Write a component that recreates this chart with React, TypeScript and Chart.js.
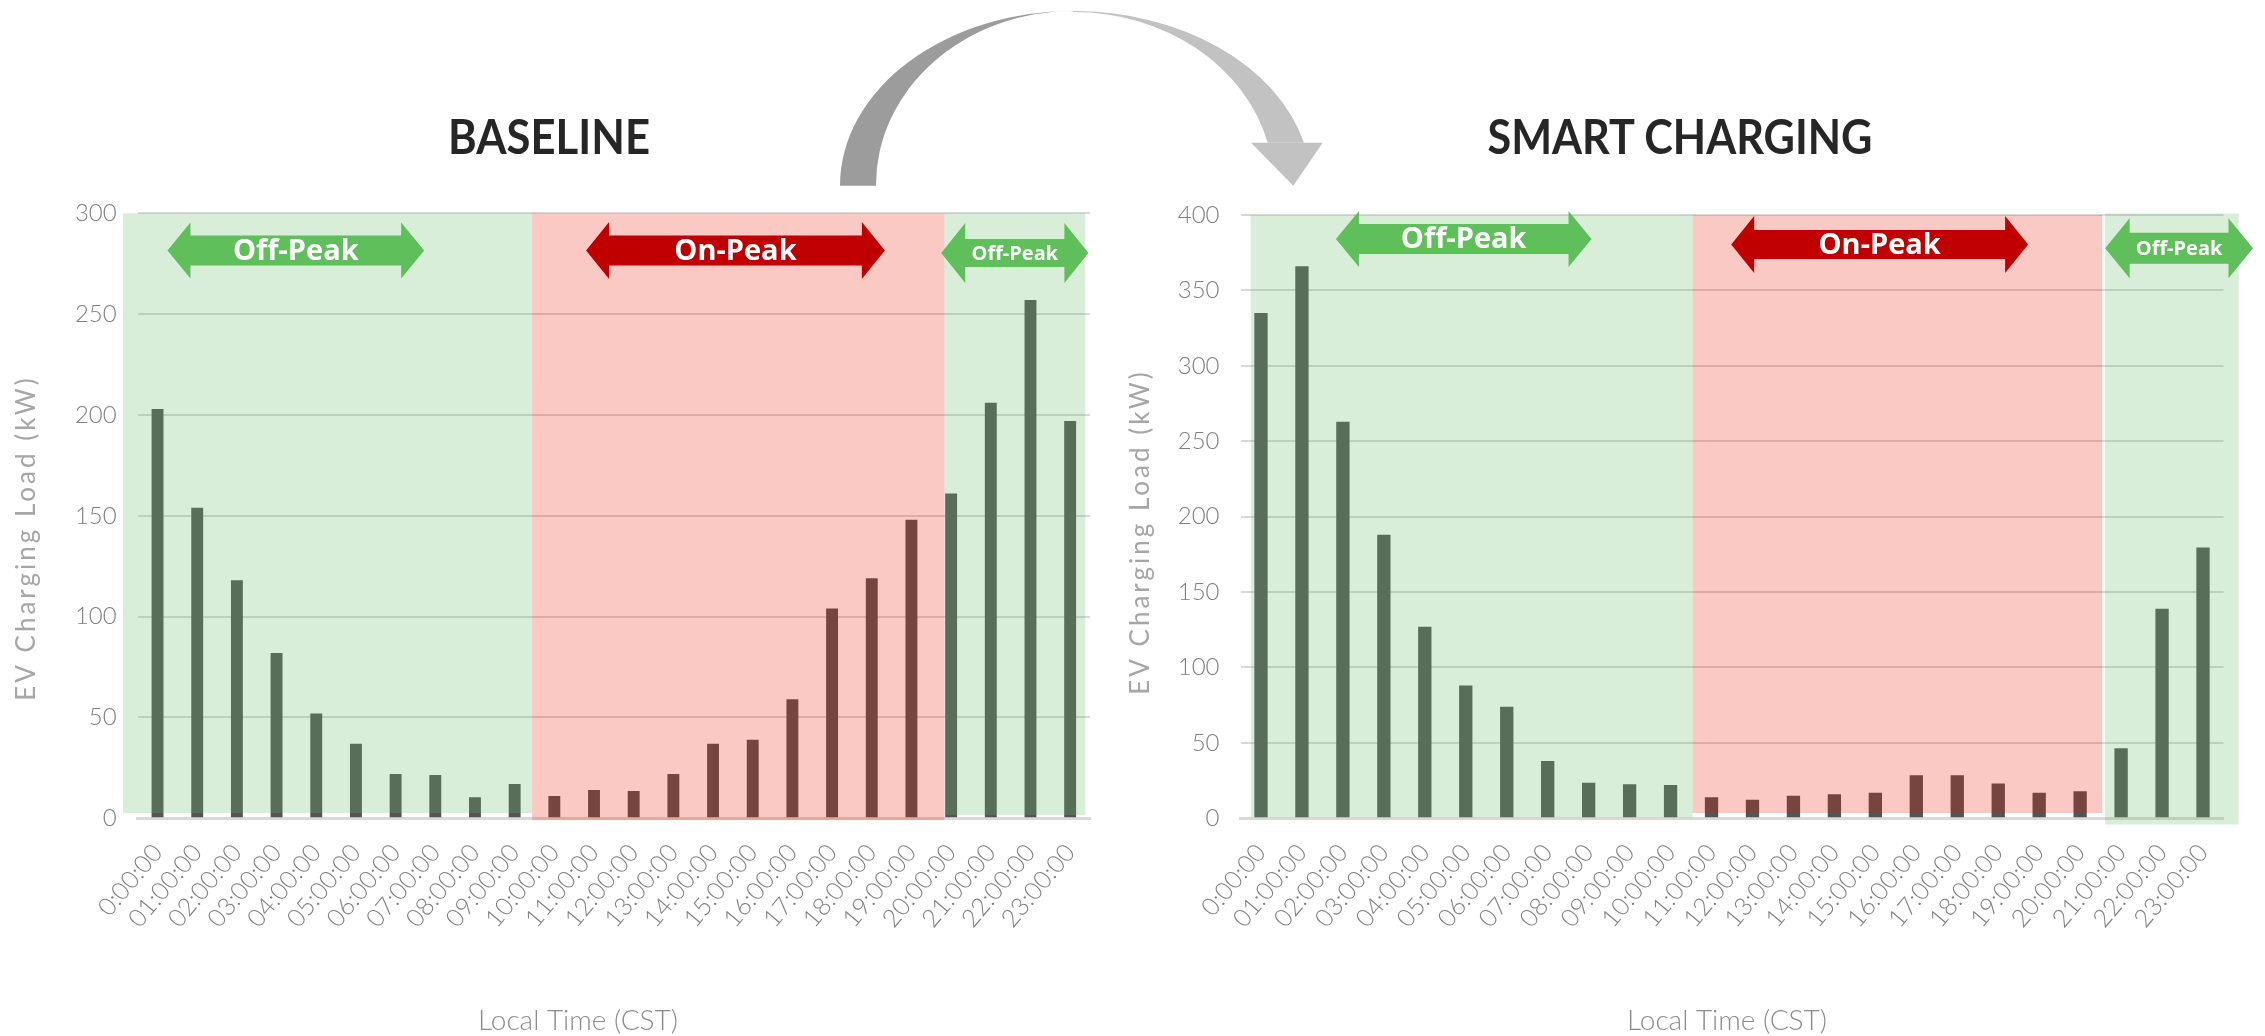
import React, { useEffect, useRef } from "react";
import { Chart, registerables } from "chart.js";

Chart.register(...registerables);

// Hourly local-time categories (CST)
const HOURS = [
  "0:00:00", "01:00:00", "02:00:00", "03:00:00", "04:00:00", "05:00:00",
  "06:00:00", "07:00:00", "08:00:00", "09:00:00", "10:00:00", "11:00:00",
  "12:00:00", "13:00:00", "14:00:00", "15:00:00", "16:00:00", "17:00:00",
  "18:00:00", "19:00:00", "20:00:00", "21:00:00", "22:00:00", "23:00:00",
];

// EV charging load, kW
const BASELINE_KW = [
  203, 154, 118, 82, 52, 37, 22, 21.5, 10.5, 17, 11, 14,
  13.5, 22, 37, 39, 59, 104, 119, 148, 161, 206, 257, 197,
];
const SMART_KW = [
  335, 366, 263, 188, 127, 88, 74, 38, 23.5, 22.5, 22, 14,
  12.3, 15, 16, 17, 28.5, 28.5, 23, 17, 18, 46.5, 139, 179.5,
];

const BASELINE_TICKS = { max: 300, step: 50 };
const SMART_TICKS = { max: 400, step: 50 };

// Tariff periods, in category-index units (value range top/bottom in kW)
type Band = { kind: "on" | "off"; from: number; to: number; top: number; bottom: number };
const BASELINE_BANDS: Band[] = [
  { kind: "off", from: -0.87, to: 9.44, top: 300, bottom: 2.6 },
  { kind: "on", from: 9.44, to: 19.83, top: 300, bottom: -0.9 },
  { kind: "off", from: 19.83, to: 23.38, top: 300, bottom: 1.6 },
];
const SMART_BANDS: Band[] = [
  { kind: "off", from: -0.25, to: 10.54, top: 400, bottom: 0.7 },
  { kind: "on", from: 10.54, to: 20.54, top: 400, bottom: 3.5 },
  { kind: "off", from: 20.61, to: 23.87, top: 401, bottom: -4.1 },
];

// Double-headed period tags
type Tag = {
  kind: "on" | "off"; label: string; from: number; to: number; at: number;
  head: number; shaft: number; headLen: number; font: number;
};
const BASELINE_TAGS: Tag[] = [
  { kind: "off", label: "Off-Peak", from: 0.25, to: 6.72, at: 281.6, head: 28, shaft: 15, headLen: 23, font: 29 },
  { kind: "on", label: "On-Peak", from: 10.8, to: 18.33, at: 281.6, head: 28.5, shaft: 15, headLen: 23, font: 29 },
  { kind: "off", label: "Off-Peak", from: 19.75, to: 23.46, at: 280.3, head: 30, shaft: 14, headLen: 24, font: 20 },
];
const SMART_TAGS: Tag[] = [
  { kind: "off", label: "Off-Peak", from: 1.83, to: 8.07, at: 384.1, head: 28, shaft: 15, headLen: 23, font: 29 },
  { kind: "on", label: "On-Peak", from: 11.48, to: 18.73, at: 380.5, head: 28.5, shaft: 14.5, headLen: 23, font: 29 },
  { kind: "off", label: "Off-Peak", from: 20.61, to: 24.22, at: 377.9, head: 30, shaft: 15.5, headLen: 24.5, font: 20 },
];

const BAR_COLOR = "#545454";
const OFF_TINT = "rgba(100,188,100,0.25)";
const ON_TINT = "rgba(238,20,0,0.23)";
const OFF_ARROW = "#5fbf5a";
const ON_ARROW = "#c00000";
const TICK_COLOR = "#7f7f7f";

type Caption = { yX: number; yY: number; xX: number; xBase: number };

function touPlugin(bands: Band[], tags: Tag[], cap: Caption) {
  return {
    id: "tou",
    afterDatasetsDraw(chart: any) {
      const { ctx, scales } = chart;
      const x = scales.x;
      const y = scales.y;
      ctx.save();
      for (const b of bands) {
        const x0 = x.getPixelForValue(b.from);
        const x1 = x.getPixelForValue(b.to);
        const y0 = y.getPixelForValue(b.top);
        const y1 = y.getPixelForValue(b.bottom);
        ctx.fillStyle = b.kind === "on" ? ON_TINT : OFF_TINT;
        ctx.fillRect(x0, y0, x1 - x0, y1 - y0);
      }
      for (const t of tags) {
        const x0 = x.getPixelForValue(t.from);
        const x1 = x.getPixelForValue(t.to);
        const yc = y.getPixelForValue(t.at);
        ctx.fillStyle = t.kind === "on" ? ON_ARROW : OFF_ARROW;
        ctx.beginPath();
        ctx.moveTo(x0, yc);
        ctx.lineTo(x0 + t.headLen, yc - t.head);
        ctx.lineTo(x0 + t.headLen, yc - t.shaft);
        ctx.lineTo(x1 - t.headLen, yc - t.shaft);
        ctx.lineTo(x1 - t.headLen, yc - t.head);
        ctx.lineTo(x1, yc);
        ctx.lineTo(x1 - t.headLen, yc + t.head);
        ctx.lineTo(x1 - t.headLen, yc + t.shaft);
        ctx.lineTo(x0 + t.headLen, yc + t.shaft);
        ctx.lineTo(x0 + t.headLen, yc + t.head);
        ctx.closePath();
        ctx.fill();
        ctx.fillStyle = "#ffffff";
        ctx.font = `bold ${t.font}px "Open Sans", Lato, sans-serif`;
        ctx.textAlign = "center";
        ctx.textBaseline = "middle";
        ctx.fillText(t.label, (x0 + x1) / 2, yc + 1);
      }
      ctx.restore();
    },
    afterDraw(chart: any) {
      const { ctx } = chart;
      ctx.save();
      ctx.fillStyle = "#a6a6a6";
      ctx.font = `400 26px Lato, sans-serif`;
      ctx.textAlign = "center";
      ctx.textBaseline = "middle";
      (ctx as any).letterSpacing = "3px";
      ctx.translate(cap.yX, cap.yY);
      ctx.rotate(-Math.PI / 2);
      ctx.fillText("EV Charging Load (kW)", 0, 0);
      ctx.restore();

      ctx.save();
      ctx.fillStyle = "#8c8c8c";
      ctx.font = `300 28px Lato, sans-serif`;
      ctx.textAlign = "center";
      ctx.textBaseline = "alphabetic";
      ctx.fillText("Local Time (CST)", cap.xX, cap.xBase);
      ctx.restore();
    },
  };
}

type Spec = {
  values: number[];
  ticks: { max: number; step: number };
  bands: Band[];
  tags: Tag[];
  cap: Caption;
  axisWidth: number;
  top: number;
  right: number;
  bottomY: number;
  height: number;
  barPct: number;
};

function makeChart(canvas: HTMLCanvasElement, s: Spec) {
  return new Chart(canvas, {
    type: "bar",
    data: {
      labels: HOURS,
      datasets: [
        {
          data: s.values,
          backgroundColor: BAR_COLOR,
          borderWidth: 0,
          barPercentage: s.barPct,
          categoryPercentage: 1,
        },
      ],
    },
    options: {
      responsive: false,
      animation: false,
      devicePixelRatio: 1,
      layout: { padding: { left: 0, top: s.top, right: s.right, bottom: 0 } },
      plugins: {
        legend: { display: false },
        tooltip: { enabled: false },
        title: { display: false },
      },
      scales: {
        x: {
          offset: true,
          grid: { display: false, drawTicks: false },
          border: { display: true, color: "#d9d9d9", width: 3 },
          ticks: {
            autoSkip: false,
            minRotation: 50,
            maxRotation: 50,
            padding: 20,
            color: TICK_COLOR,
            font: { family: "Lato", size: 25, weight: "300" },
          },
          afterFit: (scale: any) => {
            scale.height = s.height - s.bottomY;
          },
        },
        y: {
          min: 0,
          max: s.ticks.max,
          grid: { color: "#d9d9d9", lineWidth: 2, drawTicks: false },
          border: { display: false },
          ticks: {
            stepSize: s.ticks.step,
            padding: 21,
            color: TICK_COLOR,
            font: { family: "Lato", size: 24, weight: "300" },
          },
          afterFit: (scale: any) => {
            scale.width = s.axisWidth;
          },
        },
      },
    } as any,
    plugins: [touPlugin(s.bands, s.tags, s.cap)],
  });
}

const PAGE_W = 2265;
const PAGE_H = 1036;
const SPLIT = 1120;

export default function App() {
  const leftRef = useRef<HTMLCanvasElement>(null);
  const rightRef = useRef<HTMLCanvasElement>(null);

  useEffect(() => {
    const left = makeChart(leftRef.current!, {
      values: BASELINE_KW,
      ticks: BASELINE_TICKS,
      bands: BASELINE_BANDS,
      tags: BASELINE_TAGS,
      cap: { yX: 27, yY: 538, xX: 578, xBase: 1030 },
      axisWidth: 137.7,
      top: 213.3,
      right: SPLIT - 1090,
      bottomY: 818.3,
      height: PAGE_H,
      barPct: 0.3,
    });
    const right = makeChart(rightRef.current!, {
      values: SMART_KW,
      ticks: SMART_TICKS,
      bands: SMART_BANDS,
      tags: SMART_TAGS,
      cap: { yX: 21, yY: 532, xX: 1727 - SPLIT, xBase: 1030 },
      axisWidth: 1240.5 - SPLIT,
      top: 215,
      right: PAGE_W - SPLIT - (2223.5 - SPLIT),
      bottomY: 818.3,
      height: PAGE_H,
      barPct: 0.325,
    });
    return () => {
      left.destroy();
      right.destroy();
    };
  }, []);

  return (
    <div
      style={{
        position: "fixed",
        left: 0,
        top: 0,
        width: PAGE_W,
        height: PAGE_H,
        background: "#ffffff",
        overflow: "hidden",
      }}
    >
      <canvas
        ref={leftRef}
        width={SPLIT}
        height={PAGE_H}
        style={{ position: "absolute", left: 0, top: 0 }}
      />
      <canvas
        ref={rightRef}
        width={PAGE_W - SPLIT}
        height={PAGE_H}
        style={{ position: "absolute", left: SPLIT, top: 0 }}
      />
      <svg
        width={PAGE_W}
        height={PAGE_H}
        style={{ position: "absolute", left: 0, top: 0, pointerEvents: "none" }}
      >
        <text
          x={549}
          y={154}
          textAnchor="middle"
          fontFamily="Lato, sans-serif"
          fontWeight={700}
          fontSize={47}
          fill="#262626"
          textLength={202}
          lengthAdjust="spacingAndGlyphs"
        >
          BASELINE
        </text>
        <text
          x={1680}
          y={154}
          textAnchor="middle"
          fontFamily="Lato, sans-serif"
          fontWeight={700}
          fontSize={47}
          fill="#262626"
          textLength={385}
          lengthAdjust="spacingAndGlyphs"
        >
          SMART CHARGING
        </text>
        {/* curved transition arrow between the two panels */}
        <path
          d="M 840 185.7 A 233 174.7 0 0 1 1073 11 A 197 173.7 0 0 0 876 185.7 Z"
          fill="#9c9c9c"
        />
        <path
          d="M 1073 11 A 238 174.7 0 0 1 1304 142.7 L 1267.7 142.7 A 200 173.7 0 0 0 1073 12 Z"
          fill="#c2c2c2"
        />
        <polygon points="1251,142.7 1322.7,142.7 1293.3,185.7" fill="#c2c2c2" />
      </svg>
    </div>
  );
}
